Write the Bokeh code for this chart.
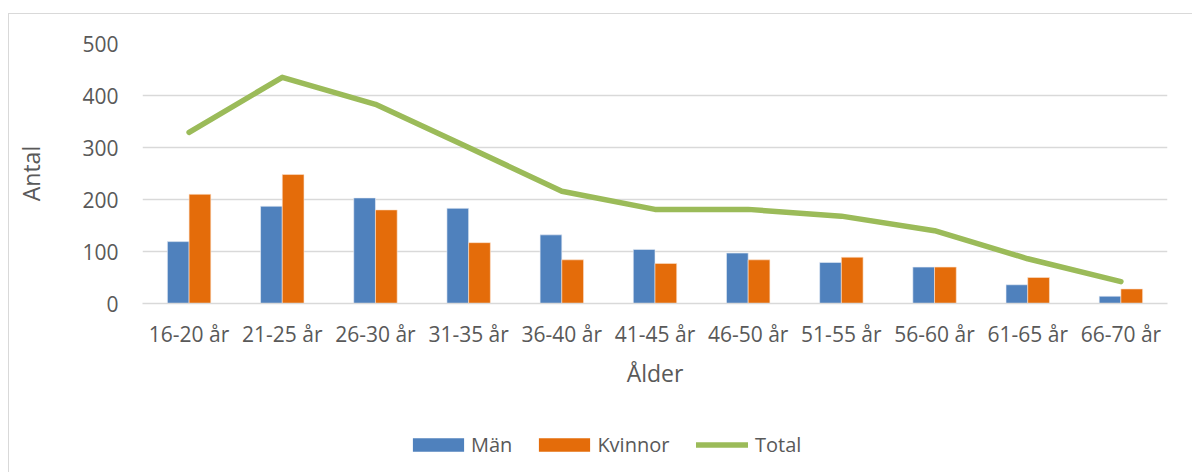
from bokeh.plotting import figure
from bokeh.models import Range1d, FixedTicker, Legend, LegendItem, ColumnDataSource
from bokeh.layouts import column
from bokeh.transform import dodge
from bokeh.embed import file_html
from bokeh.resources import INLINE

categories = ["16-20 år", "21-25 år", "26-30 år", "31-35 år", "36-40 år", "41-45 år",
              "46-50 år", "51-55 år", "56-60 år", "61-65 år", "66-70 år"]
man = [119, 187, 203, 183, 132, 104, 97, 79, 70, 36, 14]
kvinnor = [210, 248, 180, 117, 84, 77, 84, 89, 70, 50, 28]
total = [329, 435, 383, 300, 216, 181, 181, 168, 140, 86, 42]
y_ticks = [0, 100, 200, 300, 400, 500]

FONT = "Open Sans"
TXT = "#595959"
BLUE, ORANGE, GREEN = "#4F81BD", "#E46C0A", "#9BBB59"
BORDER = "1px solid #D9D9D9"

src = ColumnDataSource(dict(cat=categories, man=man, kvinnor=kvinnor, total=total))

p = figure(x_range=categories, y_range=Range1d(0, 500), width=1184, height=399,
           output_backend="svg", toolbar_location=None,
           min_border_left=133, min_border_right=26, min_border_top=29, min_border_bottom=110)
p.styles = {"margin-left": "8px", "margin-top": "13px", "border-left": BORDER, "border-top": BORDER}
p.outline_line_color = None
p.background_fill_color = "white"
p.border_fill_color = "white"

bw = 0.233
p.vbar(x=dodge("cat", -bw / 2, range=p.x_range), top="man", width=bw, source=src,
       fill_color=BLUE, line_color="#E9EEF6", line_width=0.6)
p.vbar(x=dodge("cat", bw / 2, range=p.x_range), top="kvinnor", width=bw, source=src,
       fill_color=ORANGE, line_color="#FBE3CF", line_width=0.6)
p.line(x="cat", y="total", source=src, line_color=GREEN, line_width=5.5,
       line_cap="round", line_join="round")

p.yaxis.ticker = FixedTicker(ticks=y_ticks)
p.ygrid.ticker = FixedTicker(ticks=y_ticks)
p.ygrid.grid_line_color = "#D9D9D9"
p.ygrid.grid_line_width = 1.5
p.xgrid.grid_line_color = None

for ax in (p.xaxis, p.yaxis):
    ax.major_tick_line_color = None
    ax.minor_tick_line_color = None
    ax.major_label_text_font = FONT
    ax.major_label_text_color = TXT
    ax.axis_label_text_font = FONT
    ax.axis_label_text_color = TXT
    ax.axis_label_text_font_style = "normal"

p.xaxis.major_label_text_font_size = "21px"
p.yaxis.major_label_text_font_size = "21px"
p.xaxis.axis_label_text_font_size = "23px"
p.yaxis.axis_label_text_font_size = "23px"

p.yaxis.axis_line_color = None
p.yaxis.major_label_standoff = 18
p.yaxis.axis_label = "Antal"
p.yaxis.axis_label_standoff = 32

p.xaxis.axis_line_color = "#D9D9D9"
p.xaxis.axis_line_width = 1.5
p.xaxis.major_label_standoff = 10
p.xaxis.axis_label = "Ålder"
p.xaxis.axis_label_standoff = 6

# legend strip below the plot
lf = figure(width=1184, height=60, x_range=Range1d(0, 1), y_range=Range1d(0, 1),
            output_backend="svg", toolbar_location=None,
            min_border_left=0, min_border_right=0, min_border_top=0, min_border_bottom=0)
lf.styles = {"margin-left": "8px", "border-left": BORDER}
lf.axis.visible = False
lf.grid.visible = False
lf.outline_line_color = None
lf.border_fill_color = "white"
off = ColumnDataSource(dict(x=[-5], y=[-5], b=[-6]))
g1 = lf.vbar(x="x", top="y", bottom="b", width=0.1, source=off, fill_color=BLUE, line_color=None)
g2 = lf.vbar(x="x", top="y", bottom="b", width=0.1, source=off, fill_color=ORANGE, line_color=None)
g3 = lf.line(x="x", y="y", source=off, line_color=GREEN, line_width=5.5, line_cap="round")


def style_legend(lg, gw):
    lg.orientation = "horizontal"
    lg.glyph_width = gw
    lg.glyph_height = 17
    lg.padding = 0
    lg.margin = 0
    lg.border_line_color = None
    lg.background_fill_alpha = 0
    lg.label_text_font = FONT
    lg.label_text_color = TXT
    lg.label_text_font_size = "20px"


leg_bars = Legend(items=[LegendItem(label="Män", renderers=[g1]),
                         LegendItem(label="Kvinnor", renderers=[g2])],
                  location=(264, 14))
style_legend(leg_bars, 64)
leg_bars.label_standoff = 1
leg_bars.spacing = 20

leg_line = Legend(items=[LegendItem(label="Total", renderers=[g3])], location=(554, 14))
style_legend(leg_line, 52)
leg_line.label_standoff = 7

lf.add_layout(leg_bars, "center")
lf.add_layout(leg_line, "center")

layout = column(p, lf, spacing=0)
open("out.html", "w").write(file_html(layout, INLINE))
